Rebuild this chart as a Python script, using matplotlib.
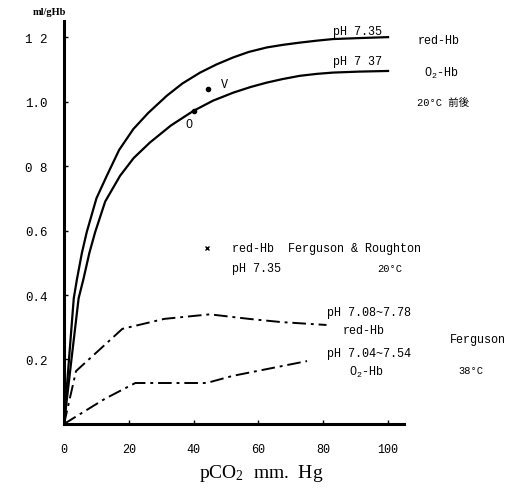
import matplotlib.pyplot as plt

# CO2 content (ml/gHb) vs pCO2 (mm Hg), 20 C
red_x = [0, 1.6, 3, 4, 5.5, 7, 10, 13.2, 17, 21.4, 26, 31.7, 36.5, 42, 47, 52.2, 57,
         62.6, 67.5, 72.8, 78, 83, 91, 100]
red_y = [0, 0.21, 0.39, 0.45, 0.53, 0.595, 0.70, 0.77, 0.85, 0.915, 0.965, 1.018,
         1.056, 1.09, 1.115, 1.137, 1.154, 1.168, 1.176, 1.183, 1.189, 1.194, 1.197, 1.2]
o2_x = [0, 2.4, 4.5, 6, 7.8, 9.6, 12.7, 17.3, 21.5, 26.5, 33, 39.9, 46, 52.3, 57.5,
        62.6, 67.5, 72.8, 78, 83, 91, 100]
o2_y = [0, 0.21, 0.39, 0.45, 0.53, 0.595, 0.69, 0.77, 0.825, 0.873, 0.926, 0.971,
        1.003, 1.028, 1.045, 1.059, 1.07, 1.08, 1.086, 1.09, 1.093, 1.095]

# Ferguson, 38 C
ferg_red_x = [0, 3.7, 18, 31, 45, 57, 67, 81]
ferg_red_y = [0, 0.164, 0.295, 0.326, 0.34, 0.326, 0.316, 0.307]
ferg_o2_x = [0, 12.6, 22, 44, 52, 75]
ferg_o2_y = [0, 0.078, 0.127, 0.127, 0.149, 0.195]

# single points
o_point = (40, 0.97)
v_point = (44.5, 1.04)
fr_point = (44, 0.546)

x_ticks = [0, 20, 40, 60, 80, 100]
x_labels = ["0", "20", "40", "60", "80", "100"]
y_ticks = [0.2, 0.4, 0.6, 0.8, 1.0, 1.2]
y_labels = ["0.2", "0.4", "0.6", "0 8", "1.0", "1 2"]

plt.rcParams['mathtext.default'] = 'regular'
MONO = ['Liberation Mono', 'DejaVu Sans Mono']
JP = ['Liberation Mono', 'Noto Sans CJK JP']

fig = plt.figure(figsize=(5.25, 4.89), dpi=100)
ax = fig.add_axes([0.122, 0.131, 0.648, 0.824])

ax.plot(red_x, red_y, color='black', lw=1.6)
ax.plot(o2_x, o2_y, color='black', lw=1.6)
dashdot = (0, (7, 2.5, 1.5, 2.5))
ax.plot(ferg_red_x, ferg_red_y, color='black', lw=1.4, linestyle=dashdot)
ax.plot(ferg_o2_x, ferg_o2_y, color='black', lw=1.4, linestyle=dashdot)

ax.plot(*o_point, 'o', color='black', ms=3)
ax.plot(*v_point, 'o', color='black', ms=3)
ax.plot(*fr_point, 'x', color='black', ms=3, mew=1)

ax.set_xlim(0, 105)
ax.set_ylim(0, 1.25)
ax.spines['top'].set_visible(False)
ax.spines['right'].set_visible(False)
ax.spines['left'].set_linewidth(2.2)
ax.spines['bottom'].set_linewidth(2.2)
ax.set_xticks(x_ticks)
ax.set_xticklabels(x_labels, family=MONO, fontsize=8.5)
ax.set_yticks(y_ticks)
ax.set_yticklabels(y_labels, family=MONO, fontsize=9)
ax.tick_params(axis='x', direction='in', length=3, width=1, pad=14)
ax.tick_params(axis='y', direction='in', length=3, width=1, pad=12)

def label(x, y, s, size=8.5, family=MONO, **kw):
    ax.text(x, y, s, family=family, fontsize=size, ha='left', va='center',
            clip_on=False, **kw)

label(83, 1.22, "pH 7.35")
label(109, 1.19, "red-Hb")
label(83, 1.125, "pH 7 37")
label(111, 1.09, "O$_2$-Hb")
label(109, 1.0, "20°C 前後", size=7.5, family=JP)
label(48.5, 1.056, "V")
label(37.5, 0.93, "O")

label(51.9, 0.546, "red-Hb  Ferguson & Roughton")
label(51.9, 0.484, "pH 7.35")
label(96.6, 0.484, "20°C", size=7.5)

label(81.2, 0.347, "pH 7.08~7.78")
label(86.1, 0.291, "red-Hb")
label(81.2, 0.22, "pH 7.04~7.54")
label(88, 0.164, "O$_2$-Hb")
label(119, 0.264, "Ferguson")
label(121.6, 0.167, "38°C", size=7.5)

ax.text(-4.6, 1.278, "ml/gHb", family=['Liberation Serif'], fontsize=7.5,
        ha='center', va='center', clip_on=False, fontweight='bold')
fig.text(261 / 525, 1 - 474 / 489, "pCO$_2$  mm.  Hg", family=['Liberation Serif'],
         fontsize=14, ha='center', va='center')

fig.savefig("out.png", dpi=100)
